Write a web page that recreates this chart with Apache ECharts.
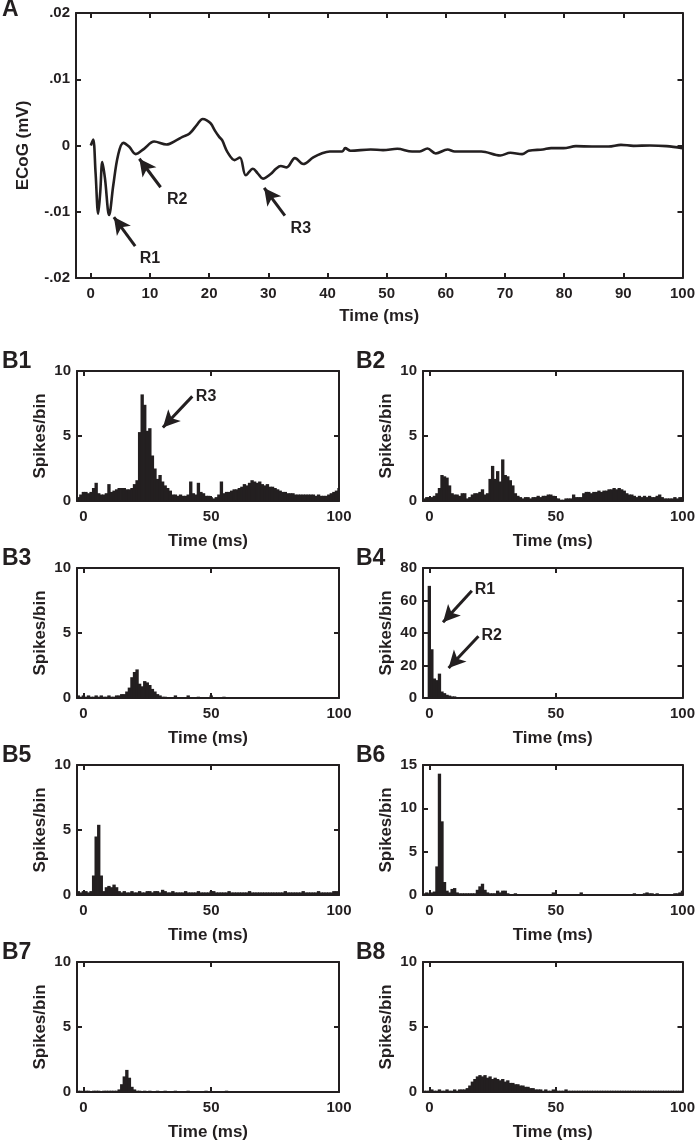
<!DOCTYPE html>
<html><head><meta charset="utf-8">
<script src="https://cdn.jsdelivr.net/npm/echarts@6/dist/echarts.min.js"></script>
<style>html,body{margin:0;padding:0;background:#fff}#c{width:698px;height:1147px}</style>
</head><body><div id="c"></div>
<script>
// ---------- DATA ----------
const ecogTime = [0,0.4,0.8,1.25,1.6,1.95,2.4,3.1,3.8,4.6,5.5,6.5,7.6,9.0,10.7,12.8,14.5,15.5,16.7,18.0,18.9,19.6,20.3,21.0,21.7,22.2,23.1,24.3,25.2,26.2,27.4,28.2,29.1,30.4,31.3,32.1,33.1,34.5,35.9,37.6,39.0,40.4,42.5,43.0,43.9,47.3,49.4,51.8,54.3,55.6,56.9,58.3,60.3,61.5,66.0,69.2,70.9,72.9,74.0,76.4,77.8,79.9,82.0,84.7,87.5,89.6,91.7,94.5,97.3,100];
const ecogMv = [0,0.0009,-0.004,-0.0103,-0.007,-0.0025,-0.005,-0.0105,-0.006,-0.0015,0.0004,-0.0002,-0.0013,-0.0005,0.0006,0.00015,0.0008,0.0013,0.0018,0.0032,0.004,0.0038,0.0033,0.0022,0.0013,0.0008,-0.001,-0.0022,-0.0018,-0.0045,-0.0035,-0.0042,-0.005,-0.0043,-0.0035,-0.0031,-0.0033,-0.0019,-0.0028,-0.0018,-0.0012,-0.0009,-0.0009,-0.0004,-0.0008,-0.0006,-0.0007,-0.0005,-0.0009,-0.0009,-0.00045,-0.0012,-0.0006,-0.0009,-0.0009,-0.0015,-0.0011,-0.0013,-0.0008,-0.0006,-0.0004,-0.0004,-0.0001,-0.00015,-0.00015,0.0001,-0.00005,0,-0.0001,-0.0004];

const binStart = -2;   // first bin centre (ms), bins 1 ms wide
const spikesB1 = [0.3,0.5,0.7,0.7,0.6,0.7,1.0,1.4,0.6,0.5,0.5,0.6,1.3,0.7,0.8,0.9,1.0,1.0,1.0,0.9,0.9,1.0,1.3,1.6,5.3,8.2,7.4,5.4,5.6,3.5,2.5,1.7,2.0,1.5,1.2,1.0,0.8,0.5,0.5,0.4,0.5,0.4,0.4,0.5,1.5,0.6,0.5,1.4,0.7,0.6,0.4,0.4,0.3,0.2,0.3,0.5,1.5,0.6,0.7,0.7,0.8,0.9,0.9,1.0,1.1,1.3,1.2,1.4,1.6,1.5,1.4,1.5,1.3,1.2,1.3,1.1,1.1,1.0,0.9,0.8,0.7,0.7,0.6,0.6,0.6,0.5,0.5,0.5,0.5,0.5,0.5,0.5,0.5,0.4,0.5,0.4,0.4,0.4,0.5,0.6,0.7,0.8,1.0];
const spikesB2 = [0.2,0.3,0.3,0.3,0.4,0.6,1.0,2.0,1.9,1.8,1.2,0.6,0.5,0.5,0.4,0.6,0.6,0.2,0.3,0.5,0.6,0.6,0.7,0.9,0.5,0.6,1.7,2.7,1.7,2.3,1.5,3.2,2.0,1.9,1.6,1.2,0.6,0.4,0.3,0.2,0.3,0.3,0.2,0.3,0.3,0.4,0.3,0.4,0.4,0.5,0.5,0.4,0.2,0.2,0.1,0.1,0.2,0.2,0.2,0.5,0.3,0.3,0.3,0.6,0.7,0.7,0.6,0.7,0.7,0.8,0.7,0.8,0.8,0.9,0.9,1.0,0.9,1.0,0.9,0.8,0.6,0.5,0.5,0.4,0.3,0.4,0.3,0.4,0.3,0.4,0.3,0.3,0.4,0.5,0.3,0.2,0.2,0.2,0.2,0.3,0.2,0.3,0.3];
const spikesB3 = [0.2,0.1,0.2,0.1,0.2,0.1,0.1,0.2,0.1,0.2,0.1,0.1,0.2,0.1,0.1,0.2,0.2,0.3,0.3,0.5,0.8,1.6,2.0,2.2,1.1,0.9,1.3,1.2,1.0,0.7,0.5,0.3,0.2,0.1,0.1,0,0,0,0.2,0,0,0,0,0.2,0,0,0,0.1,0,0,0,0,0.2,0,0,0,0,0.1,0,0,0,0,0,0,0,0,0,0,0,0,0,0,0,0,0,0,0,0,0,0,0,0,0,0,0,0,0,0,0,0,0,0,0,0,0,0,0,0,0,0,0,0,0];
const spikesB4 = [0,0,69,30,12,11,15,4,3,2,1.5,1,1,0.5,0.5,0,0,0,0,0,0,0,0,0,0,0,0,0,0,0,0,0,0,0,0,0,0,0,0,0,0,0,0,0,0,0,0,0,0,0,0,0,0,0,0,0,0,0,0,0,0,0,0,0,0,0,0,0,0,0,0,0,0,0,0,0,0,0,0,0,0,0,0,0,0,0,0,0,0,0,0,0,0,0,0,0,0,0,0,0,0,0,0];
const spikesB5 = [0.3,0.2,0.3,0.3,0.2,0.3,1.5,4.5,5.4,1.5,0.3,0.6,0.7,0.6,0.8,0.6,0.3,0.2,0.3,0.2,0.2,0.3,0.2,0.2,0.3,0.2,0.2,0.3,0.3,0.2,0.3,0.3,0.2,0.4,0.3,0.2,0.2,0.3,0.2,0.2,0.2,0.2,0.3,0.2,0.2,0.2,0.2,0.3,0.2,0.2,0.2,0.2,0.3,0.3,0.2,0.2,0.2,0.2,0.2,0.3,0.2,0.2,0.2,0.2,0.2,0.2,0.2,0.3,0.2,0.2,0.2,0.2,0.2,0.2,0.2,0.2,0.2,0.2,0.2,0.2,0.2,0.3,0.2,0.2,0.2,0.2,0.2,0.2,0.3,0.2,0.2,0.2,0.2,0.2,0.3,0.2,0.2,0.2,0.2,0.2,0.3,0.3,0.2];
const spikesB6 = [0.2,0.3,0.2,0.3,0.4,3.3,14,8.5,1.5,0.5,0.3,0.7,0.8,0.3,0.2,0.2,0.2,0.2,0.2,0.2,0.2,0.6,1.0,1.3,0.6,0.3,0.2,0.2,0.2,0.5,0.3,0.5,0.5,0.2,0.1,0.1,0.2,0.1,0.1,0.1,0.1,0.1,0.1,0.1,0.1,0.1,0.1,0.1,0.1,0.1,0.1,0.3,0.1,0.1,0.1,0.1,0.1,0.1,0.1,0.1,0.1,0.1,0.3,0.1,0.1,0.1,0.1,0.1,0.1,0.1,0.1,0.1,0.1,0.1,0.1,0.1,0.1,0.1,0.1,0.1,0.1,0.1,0.1,0.2,0.1,0.1,0.1,0.2,0.3,0.2,0.2,0.1,0.2,0.1,0.1,0.1,0.1,0.1,0.1,0.2,0.2,0.3,0.5];
const spikesB7 = [0.1,0.1,0,0.1,0.1,0,0.1,0.1,0.1,0,0.1,0.1,0.1,0.1,0.1,0.1,0.2,0.6,1.2,1.7,1.1,0.4,0.2,0.1,0.1,0,0.1,0,0.1,0,0,0.1,0,0,0.1,0,0,0,0.1,0,0,0,0,0.1,0,0,0,0,0,0,0.1,0,0,0,0,0,0,0,0.1,0,0,0,0,0,0,0,0,0,0,0,0,0,0,0,0,0,0,0,0,0,0,0,0,0,0,0,0,0,0,0,0,0,0,0,0,0,0,0,0,0,0,0,0];
const spikesB8 = [0.1,0.1,0.1,0.2,0.1,0.1,0.2,0.1,0.1,0.2,0.1,0.1,0.2,0.1,0.2,0.2,0.2,0.3,0.5,0.8,1.0,1.2,1.3,1.2,1.3,1.1,1.2,1.0,1.1,1.0,0.9,1.0,0.8,0.9,0.7,0.7,0.6,0.6,0.5,0.5,0.4,0.4,0.3,0.3,0.2,0.2,0.2,0.1,0.2,0.1,0.1,0.2,0.1,0.1,0.1,0.1,0.2,0.1,0.1,0.1,0.1,0.1,0.1,0.1,0.1,0.1,0.1,0.1,0.1,0.1,0.1,0.1,0.1,0.1,0.1,0.1,0.1,0.1,0.1,0.1,0.1,0.1,0.1,0.1,0.1,0.1,0.1,0.1,0.1,0.1,0.1,0.1,0.1,0.1,0.1,0.1,0.1,0.1,0.1,0.1,0.1,0.1,0.1];

const xTicksA = [0,10,20,30,40,50,60,70,80,90,100];
const xTicksB = [0,50,100];
const panelNames = ['B1','B2','B3','B4','B5','B6','B7','B8'];
const panelSpikes = [spikesB1,spikesB2,spikesB3,spikesB4,spikesB5,spikesB6,spikesB7,spikesB8];
const panelYMax = [10,10,10,80,10,15,10,10];
const panelYStep = [5,5,5,20,5,5,5,5];

// annotations [tailX, tailY, headX, headY, label, labelX, labelY]
const arrowsA = [[7.5,-0.0152,3.9,-0.0108,'R1',10.0,-0.0170],[11.8,-0.0063,8.2,-0.0020,'R2',14.6,-0.0082],[32.8,-0.0106,29.3,-0.0064,'R3',35.5,-0.0125]];
const arrowsB1 = [[42.6,8.05,31.1,5.65,'R3',48.0,8.05]];
const arrowsB4 = [[16.8,66,5.4,46.6,'R1',22,66.6],[19.4,38,7.6,18.5,'R2',24.6,38.4]];

// ---------- CHART ----------
const INK = '#231f20';
const FONT = 'Liberation Sans, Arial, sans-serif';
const chart = echarts.init(document.getElementById('c'), null, {renderer:'canvas'});

const grids = [], xAxes = [], yAxes = [], series = [], titles = [];
function lineStyle(){ return {show:true, onZero:false, lineStyle:{color:INK, width:2}}; }
function addFrame(gi, xmin, xmax, ymin, ymax, yStep, xTicks, yFmt, xName, yName, yGap, xGap){
  xAxes.push({gridIndex:gi, type:'value', position:'bottom', min:xmin, max:xmax,
    axisLine:lineStyle(), splitLine:{show:false},
    axisTick:{show:true, inside:true, length:5, lineStyle:{color:INK,width:2}, customValues:xTicks},
    axisLabel:{show:true, margin:8, color:INK, fontSize:15, fontWeight:'bold', fontFamily:FONT, customValues:xTicks},
    name:xName, nameLocation:'middle', nameGap:xGap, nameTextStyle:{color:INK, fontSize:17, fontWeight:'bold', fontFamily:FONT}});
  xAxes.push({gridIndex:gi, type:'value', position:'top', min:xmin, max:xmax,
    axisLine:lineStyle(), splitLine:{show:false},
    axisTick:{show:true, inside:true, length:5, lineStyle:{color:INK,width:2}, customValues:xTicks},
    axisLabel:{show:false}});
  yAxes.push({gridIndex:gi, type:'value', position:'left', min:ymin, max:ymax, interval:yStep,
    axisLine:lineStyle(), splitLine:{show:false},
    axisTick:{show:true, inside:true, length:5, lineStyle:{color:INK,width:2}},
    axisLabel:{show:true, margin:6, color:INK, fontSize:15, fontWeight:'bold', fontFamily:FONT, formatter:yFmt},
    name:yName, nameLocation:'middle', nameGap:yGap, nameRotate:90, nameTextStyle:{color:INK, fontSize:17, fontWeight:'bold', fontFamily:FONT}});
  yAxes.push({gridIndex:gi, type:'value', position:'right', min:ymin, max:ymax, interval:yStep,
    axisLine:lineStyle(), splitLine:{show:false},
    axisTick:{show:true, inside:true, length:5, lineStyle:{color:INK,width:2}},
    axisLabel:{show:false}});
}
function arrowMarks(list){
  return {
    markLine:{silent:true, animation:false, symbol:['none','arrow'], symbolSize:[13,17],
      lineStyle:{color:INK, width:3, type:'solid'}, label:{show:false},
      data:list.map(a=>[{coord:[a[0],a[1]]},{coord:[a[2],a[3]]}])},
    markPoint:{silent:true, animation:false, symbol:'circle', symbolSize:1, itemStyle:{color:'rgba(0,0,0,0)'},
      label:{show:true, position:'inside', formatter:p=>p.name, color:INK, fontSize:16, fontWeight:'bold', fontFamily:FONT},
      data:list.map(a=>({name:a[4], coord:[a[5],a[6]]}))}
  };
}

// Panel A
grids.push({left:76, top:13, width:607, height:265});
addFrame(0, -2.5, 100, -0.02, 0.02, 0.01, xTicksA, v=>{
  const r = Math.round(v*100)/100; if (r===0) return '0';
  return r.toFixed(2).replace('0.','.');
}, 'Time (ms)', 'ECoG (mV)', 44, 30);
series.push(Object.assign({type:'line', xAxisIndex:0, yAxisIndex:0, smooth:0.35, showSymbol:false, silent:true, animation:false,
  lineStyle:{color:INK, width:2.6}, data:ecogTime.map((t,i)=>[t, ecogMv[i]])}, arrowMarks(arrowsA)));
titles.push({text:'A', left:2, top:-2});

// Panels B
const colLeft = [77, 423], colWidth = [262, 260], rowTop = [371, 568, 765, 962];
function renderBin(params, api){
  const x = api.value(0), y = api.value(1);
  if (!(y > 0)) return null;
  const p0 = api.coord([x-0.5, 0]), p1 = api.coord([x+0.5, y]);
  const cs = params.coordSys;
  const r = echarts.graphic.clipRectByRect({x:p0[0]-0.4, y:p1[1], width:p1[0]-p0[0]+0.8, height:p0[1]-p1[1]},
    {x:cs.x, y:cs.y, width:cs.width, height:cs.height});
  return r && {type:'rect', shape:r, style:{fill:INK}};
}
for (let k=0;k<8;k++){
  const gi = k+1, col = k%2, row = Math.floor(k/2);
  grids.push({left:colLeft[col], top:rowTop[row], width:colWidth[col], height:130});
  addFrame(gi, -2.5, 100, 0, panelYMax[k], panelYStep[k], xTicksB, v=>String(v), 'Time (ms)', 'Spikes/bin', 28, 32);
  const s = {type:'custom', xAxisIndex:gi*2, yAxisIndex:gi*2, renderItem:renderBin, silent:true, animation:false,
    data:panelSpikes[k].map((v,i)=>[binStart+i, v])};
  if (k===0) Object.assign(s, arrowMarks(arrowsB1));
  if (k===3) Object.assign(s, arrowMarks(arrowsB4));
  series.push(s);
  titles.push({text:panelNames[k], left: col===0 ? 2 : 356, top: rowTop[row]-21});
}

chart.setOption({
  animation:false,
  title: titles.map(t=>Object.assign({padding:0, textStyle:{color:INK, fontSize:23, fontWeight:'bold', fontFamily:FONT}}, t)),
  grid:grids, xAxis:xAxes, yAxis:yAxes, series:series
});
</script></body></html>
